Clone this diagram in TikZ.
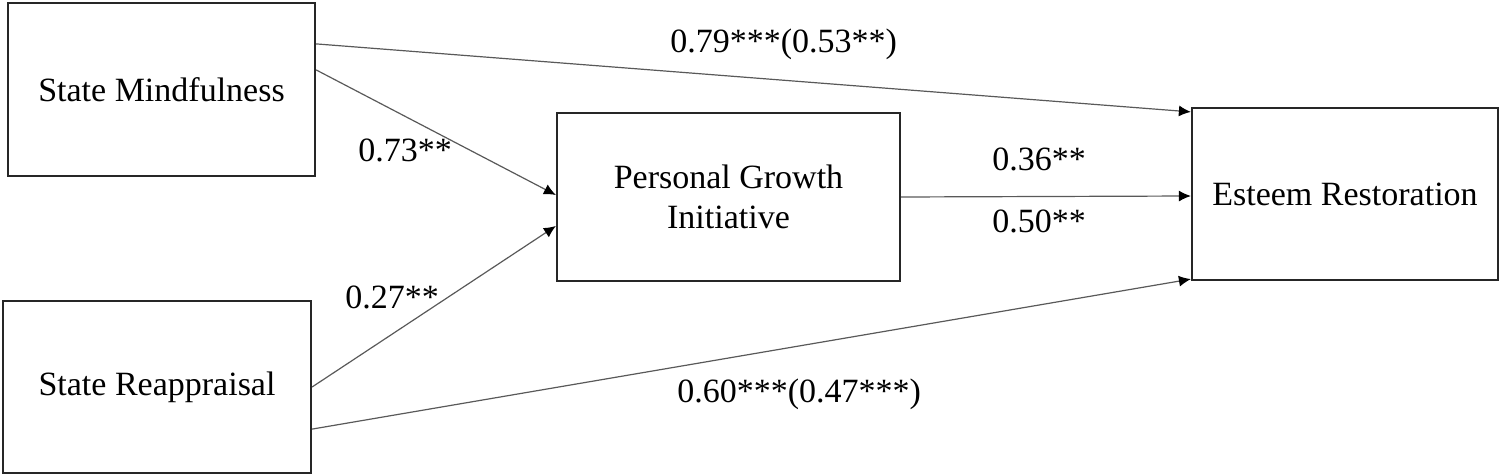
\documentclass[tikz,border=0pt]{standalone}
\usepackage{fontspec}
\setmainfont{Liberation Serif}
\usetikzlibrary{arrows.meta}
\begin{document}
\begin{tikzpicture}[x=0.5pt,y=-0.5pt,
  varbox/.style={draw=black!85, line width=1.1pt, rectangle, inner sep=0pt, align=center,
    font=\fontsize{17}{20}\selectfont},
  path/.style={draw=black!65, line width=0.6pt, -{Latex[length=6pt,width=5.5pt,color=black]}},
  coef/.style={anchor=base west, inner sep=0pt, font=\fontsize{17}{20}\selectfont}]
\useasboundingbox (0,0) rectangle (1501,476);
\node[varbox, minimum width=153.5pt, minimum height=86.5pt] (sm) at (161.5,89.5) {State Mindfulness};
\node[varbox, minimum width=154pt, minimum height=86pt] (sr) at (157,387) {State Reappraisal};
\node[varbox, minimum width=171.5pt, minimum height=84pt] (pgi) at (728.5,197) {Personal Growth\\Initiative};
\node[varbox, minimum width=153pt, minimum height=86pt] (er) at (1345,194) {Esteem Restoration};

\draw[path] ([yshift=-21pt]sm.north east) -- ([yshift=-2.5pt]er.north west);
\draw[path] ([yshift=-34pt]sm.north east) -- ([yshift=1pt]pgi.west);
\draw[path] (sr.east) -- ([yshift=-14.5pt]pgi.west);
\draw[path] ([yshift=22.5pt]sr.south east) -- ([yshift=1pt]er.south west);
\draw[path] (pgi.east) -- ([yshift=-1pt]er.west);

\node[coef] (l1) at (670,53) {0.79***(0.53**)};
\node[coef] (l2) at (358,162) {0.73**};
\node[coef] (l3) at (345,308) {0.27**};
\node[coef] (l4) at (992,170) {0.36**};
\node[coef] (l5) at (992,233) {0.50**};
\node[coef] (l6) at (677,402) {0.60***(0.47***)};
\end{tikzpicture}
\end{document}
